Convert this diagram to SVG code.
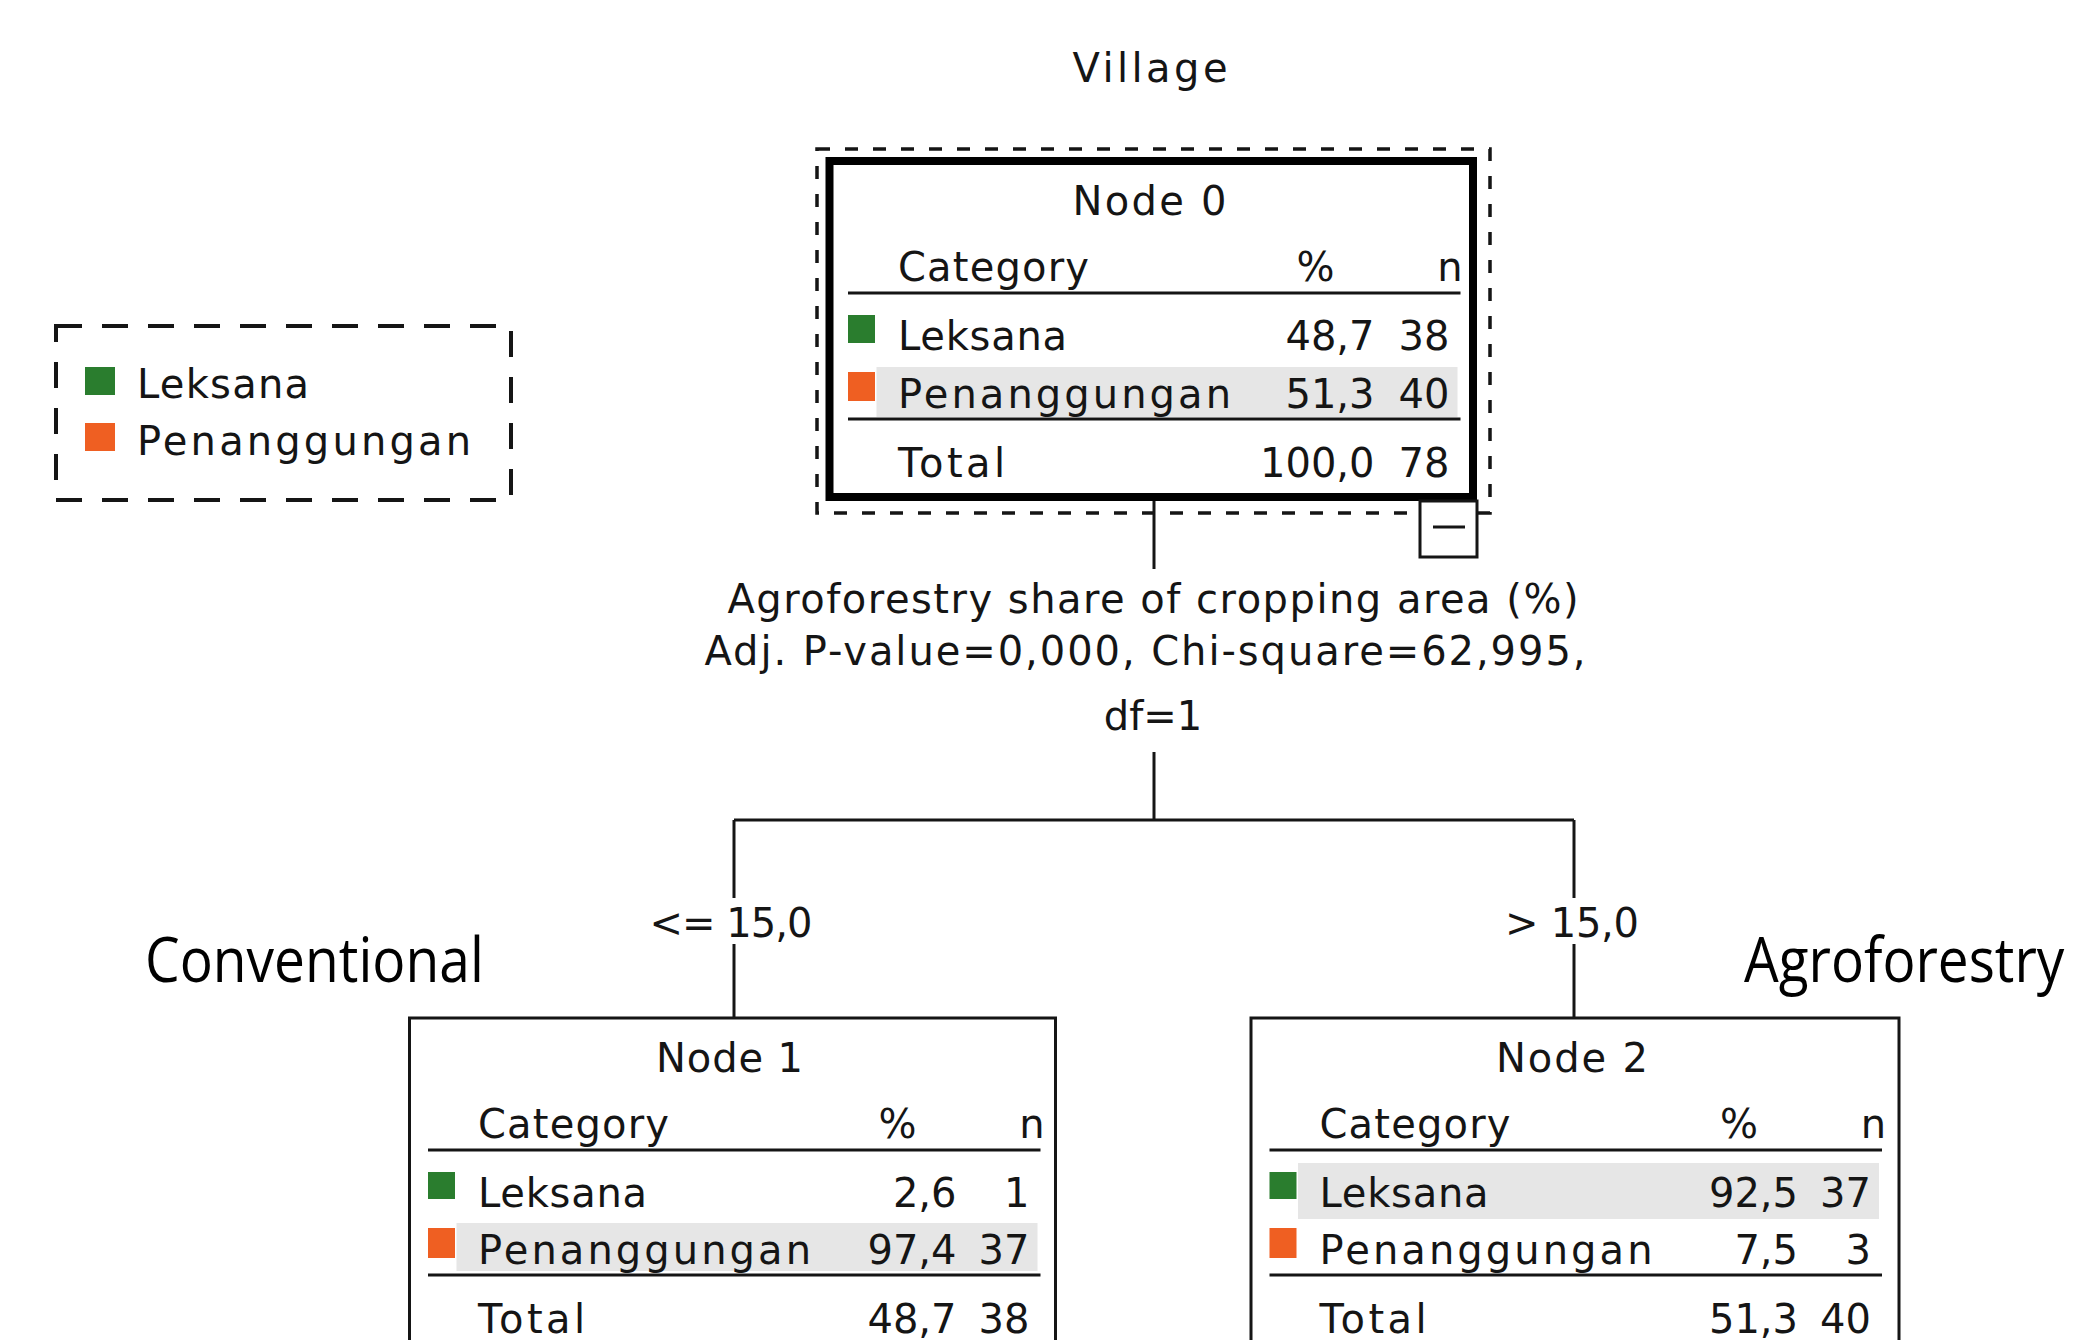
<svg xmlns="http://www.w3.org/2000/svg" width="2098" height="1340" viewBox="0 0 2098 1340">
<style>
.t{font-family:"DejaVu Sans","Liberation Sans",sans-serif;font-size:40px;fill:#151515}
.c{text-anchor:middle}
.e{text-anchor:end}
.big{font-family:"Open Sans","Liberation Sans",sans-serif;font-size:62px;fill:#000}
.box{fill:#fff;stroke:#151515;stroke-width:3}
.thick{fill:#fff;stroke:#000;stroke-width:8}
.rule{stroke:#151515;stroke-width:3}
.hl{fill:#e6e6e6}
.g{fill:#2a7d2e}
.o{fill:#ef5f22}
.conn{stroke:#151515;stroke-width:3;fill:none}
</style>
<rect width="2098" height="1340" fill="#fff"/>

<text class="t c" x="1150" y="82" font-size="42" textLength="155">Village</text>

<g id="legend">
<rect x="56" y="326" width="455" height="174" fill="#fff" stroke="#151515" stroke-width="4" stroke-dasharray="26 20"/>
<rect class="g" x="85" y="367" width="30" height="28"/>
<rect class="o" x="85" y="423" width="30" height="28"/>
<text class="t" x="137" y="398" font-size="41" textLength="172">Leksana</text>
<text class="t" x="137" y="455" font-size="41" textLength="334">Penanggungan</text>
</g>

<g id="connectors">
<line class="conn" x1="1154" y1="497" x2="1154" y2="569"/>
<line class="conn" x1="1154" y1="752" x2="1154" y2="820"/>
<line class="conn" x1="734" y1="820" x2="1574" y2="820"/>
<line class="conn" x1="734" y1="820" x2="734" y2="898"/>
<line class="conn" x1="734" y1="944" x2="734" y2="1018"/>
<line class="conn" x1="1574" y1="820" x2="1574" y2="898"/>
<line class="conn" x1="1574" y1="944" x2="1574" y2="1018"/>
<text class="t c" x="1153" y="613" textLength="851">Agroforestry share of cropping area (%)</text>
<text class="t c" x="1145" y="665" textLength="881">Adj. P-value=0,000, Chi-square=62,995,</text>
<text class="t c" x="1153" y="730">df=1</text>
<text class="t c" x="731" y="937" textLength="163">&lt;= 15,0</text>
<text class="t c" x="1572" y="937" textLength="134">&gt; 15,0</text>
</g>

<text class="big" transform="translate(145,982) scale(0.88,1)" x="0" y="0" textLength="385" lengthAdjust="spacingAndGlyphs">Conventional</text>
<text class="big" transform="translate(1744,982) scale(0.88,1)" x="0" y="0" textLength="364" lengthAdjust="spacingAndGlyphs">Agroforestry</text>

<g id="node0">
<rect x="817" y="149" width="673" height="364" fill="none" stroke="#151515" stroke-width="3.5" stroke-dasharray="13 15"/>
<g transform="translate(829.5,161)">
<rect class="thick" x="0" y="0" width="643.5" height="336"/>
<rect class="hl" x="47" y="206" width="581" height="50"/>
<text class="t c" x="320" y="54" textLength="154">Node 0</text>
<text class="t" x="68.5" y="120" textLength="191">Category</text>
<text class="t c" x="486" y="120">%</text>
<text class="t e" x="633" y="120">n</text>
<line class="rule" x1="18.5" y1="132" x2="631" y2="132"/>
<rect class="g" x="18.5" y="154" width="27" height="28"/>
<text class="t" x="68.5" y="189" textLength="169">Leksana</text>
<text class="t e" x="545" y="189">48,7</text>
<text class="t e" x="620" y="189">38</text>
<rect class="o" x="18.5" y="211" width="27" height="29"/>
<text class="t" x="68.5" y="247" textLength="333">Penanggungan</text>
<text class="t e" x="545" y="247">51,3</text>
<text class="t e" x="620" y="247">40</text>
<line class="rule" x1="18.5" y1="258" x2="631" y2="258"/>
<text class="t" x="68.5" y="316" textLength="107">Total</text>
<text class="t e" x="545" y="316">100,0</text>
<text class="t e" x="620" y="316">78</text>
</g>
<rect x="1420" y="501" width="57" height="56" fill="#fff" stroke="#151515" stroke-width="3"/>
<line x1="1433" y1="527" x2="1465" y2="527" stroke="#151515" stroke-width="3"/>
</g>

<g id="node1" transform="translate(409.5,1018)">
<rect class="box" x="0" y="0" width="646" height="400"/>
<rect class="hl" x="47" y="205" width="581" height="48"/>
<text class="t c" x="320" y="54" textLength="147">Node 1</text>
<text class="t" x="68.5" y="120" textLength="191">Category</text>
<text class="t c" x="488" y="120">%</text>
<text class="t e" x="635" y="120">n</text>
<line class="rule" x1="18.5" y1="132" x2="631" y2="132"/>
<rect class="g" x="18.5" y="154" width="27" height="27"/>
<text class="t" x="68.5" y="189" textLength="169">Leksana</text>
<text class="t e" x="547" y="189">2,6</text>
<text class="t e" x="620" y="189">1</text>
<rect class="o" x="18.5" y="210" width="27" height="30"/>
<text class="t" x="68.5" y="246" textLength="333">Penanggungan</text>
<text class="t e" x="547" y="246">97,4</text>
<text class="t e" x="620" y="246">37</text>
<line class="rule" x1="18.5" y1="257" x2="631" y2="257"/>
<text class="t" x="68.5" y="315" textLength="107">Total</text>
<text class="t e" x="547" y="315">48,7</text>
<text class="t e" x="620" y="315">38</text>
</g>

<g id="node2" transform="translate(1251,1018)">
<rect class="box" x="0" y="0" width="648" height="400"/>
<rect class="hl" x="47" y="145" width="581" height="56"/>
<text class="t c" x="321" y="54" textLength="152">Node 2</text>
<text class="t" x="68.5" y="120" textLength="191">Category</text>
<text class="t c" x="488" y="120">%</text>
<text class="t e" x="635" y="120">n</text>
<line class="rule" x1="18.5" y1="132" x2="631" y2="132"/>
<rect class="g" x="18.5" y="154" width="27" height="27"/>
<text class="t" x="68.5" y="189" textLength="169">Leksana</text>
<text class="t e" x="547" y="189">92,5</text>
<text class="t e" x="620" y="189">37</text>
<rect class="o" x="18.5" y="210" width="27" height="30"/>
<text class="t" x="68.5" y="246" textLength="333">Penanggungan</text>
<text class="t e" x="547" y="246">7,5</text>
<text class="t e" x="620" y="246">3</text>
<line class="rule" x1="18.5" y1="257" x2="631" y2="257"/>
<text class="t" x="68.5" y="315" textLength="107">Total</text>
<text class="t e" x="547" y="315">51,3</text>
<text class="t e" x="620" y="315">40</text>
</g>
</svg>
